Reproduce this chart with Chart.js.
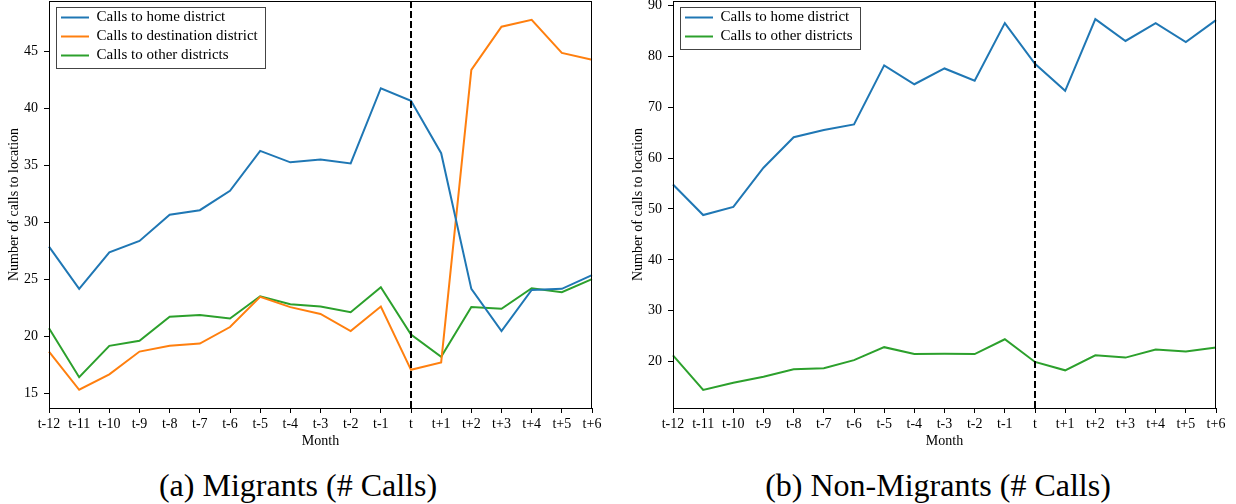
<!DOCTYPE html>
<html>
<head>
<meta charset="utf-8">
<script src="https://cdn.jsdelivr.net/npm/chart.js@4.4.1/dist/chart.umd.min.js"></script>
<style>
  body { margin: 0; background: #fff; width: 1236px; height: 504px; position: relative; overflow: hidden; font-family: "Liberation Serif", serif; }
  .panel { position: absolute; top: 0; width: 612px; height: 450px; }
  #panelA { left: 0; }
  #panelB { left: 624px; }
  .caption { position: absolute; top: 467px; width: 596px; font-size: 32px; line-height: 36px; text-align: center; color: #000; }
</style>
</head>
<body>
<div class="panel" id="panelA"><canvas id="migrantsChart"></canvas></div>
<div class="panel" id="panelB"><canvas id="nonMigrantsChart"></canvas></div>
<div class="caption" style="left:0">(a) Migrants (# Calls)</div>
<div class="caption" style="left:640px">(b) Non-Migrants (# Calls)</div>

<script>
// months relative to the move
const months = ["t-12", "t-11", "t-10", "t-9", "t-8", "t-7", "t-6", "t-5", "t-4", "t-3", "t-2", "t-1",
  "t", "t+1", "t+2", "t+3", "t+4", "t+5", "t+6"];
const eventMonth = "t";

// migrants
const migrantHome = [27.9, 24.2, 27.4, 28.4, 30.7, 31.1, 32.8, 36.3, 35.3, 35.55, 35.2, 41.8,
  40.7, 36.1, 24.2, 20.5, 24.1, 24.2, 25.4];
const migrantDest = [18.7, 15.35, 16.7, 18.7, 19.2, 19.4, 20.85, 23.5, 22.6, 22.0, 20.5, 22.65,
  17.1, 17.75, 43.4, 47.2, 47.8, 44.9, 44.3];
const migrantOther = [20.75, 16.45, 19.2, 19.65, 21.75, 21.9, 21.6, 23.55, 22.85, 22.65, 22.15, 24.35,
  20.2, 18.25, 22.6, 22.45, 24.25, 23.9, 25.05];

// non-migrants
const nonMigrantHome = [54.8, 48.8, 50.4, 58.1, 64.1, 65.5, 66.6, 78.2, 74.5, 77.6, 75.2, 86.5,
  78.5, 73.2, 87.3, 83.0, 86.5, 82.8, 87.1];
const nonMigrantOther = [21.25, 14.45, 15.85, 17.05, 18.5, 18.7, 20.3, 22.85, 21.5, 21.55, 21.5, 24.4,
  19.95, 18.3, 21.25, 20.8, 22.4, 22.0, 22.8];

// y axis ticks and limits
const migrantTicks = [15, 20, 25, 30, 35, 40, 45];
const nonMigrantTicks = [20, 30, 40, 50, 60, 70, 80, 90];
const migrantRange = [13.75, 49.45];
const nonMigrantRange = [10.9, 90.85];

const BLUE = "#1f77b4";
const ORANGE = "#ff7f0e";
const GREEN = "#2ca02c";
const FONT = { family: "'Liberation Serif', serif", size: 14 };
const LEGEND_FONT = { family: "'Liberation Serif', serif", size: 15 };

function series(label, data, color) {
  return {
    label: label,
    data: data,
    borderColor: color,
    backgroundColor: color,
    borderWidth: 2,
    pointRadius: 0,
    tension: 0,
    fill: false,
  };
}

// dashed line at month t, axes frame, box round the legend
const extras = {
  id: "extras",
  afterLayout(chart) {
    const area = chart.chartArea;
    chart.legend.left = area.left + 8;
    chart.legend.top = area.top + 5;
  },
  afterDatasetsDraw(chart) {
    const { ctx, chartArea: a, scales } = chart;
    const x = scales.x.getPixelForValue(months.indexOf(eventMonth));
    ctx.save();
    ctx.strokeStyle = "#000";
    ctx.lineWidth = 2;
    ctx.setLineDash([7, 3]);
    ctx.beginPath();
    ctx.moveTo(x, a.top);
    ctx.lineTo(x, a.bottom);
    ctx.stroke();
    ctx.restore();
  },
  afterDraw(chart) {
    const { ctx, chartArea: a } = chart;
    ctx.save();
    ctx.strokeStyle = "#000";
    ctx.lineWidth = 1;
    ctx.strokeRect(Math.round(a.left) + 0.5, Math.round(a.top) + 0.5,
      Math.round(a.right - a.left) - 1, Math.round(a.bottom - a.top));

    const hb = chart.legend.legendHitBoxes;
    const l = Math.min(...hb.map((b) => b.left)) - 5;
    const t = Math.min(...hb.map((b) => b.top)) - 3;
    const r = Math.max(...hb.map((b) => b.left + b.width)) + 7;
    const btm = Math.max(...hb.map((b) => b.top + b.height)) + 5;
    ctx.strokeStyle = "#444";
    ctx.strokeRect(Math.round(l) + 0.5, Math.round(t) + 0.5, Math.round(r - l), Math.round(btm - t));
    ctx.restore();
  },
};

function makeChart(id, datasets, ticks, range) {
  return new Chart(document.getElementById(id), {
    type: "line",
    data: { labels: months, datasets: datasets },
    options: {
      responsive: true,
      maintainAspectRatio: false,
      animation: false,
      layout: { padding: { top: 1, right: 20, left: 0, bottom: 0 } },
      scales: {
        x: {
          grid: { drawOnChartArea: false, color: "#000", tickLength: 5 },
          border: { color: "#000" },
          ticks: { color: "#000", font: FONT, autoSkip: false, maxRotation: 0, padding: 3 },
          title: { display: true, text: "Month", color: "#000", font: FONT, padding: { top: 0, bottom: 0 } },
          afterFit(s) {
            s.height = 42;
            s.paddingLeft = 0;
            s.paddingRight = 0;
          },
        },
        y: {
          min: range[0],
          max: range[1],
          afterBuildTicks(s) {
            s.ticks = ticks.map((v) => ({ value: v }));
          },
          grid: { drawOnChartArea: false, color: "#000", tickLength: 5 },
          border: { color: "#000" },
          ticks: { color: "#000", font: FONT, padding: 6 },
          title: { display: true, text: "Number of calls to location", color: "#000", font: FONT, padding: { top: 6 } },
          afterFit(s) {
            s.width = 49;
            s.paddingTop = 0;
            s.paddingBottom = 0;
          },
        },
      },
      plugins: {
        legend: {
          position: "chartArea",
          align: "start",
          labels: {
            usePointStyle: true,
            pointStyle: "line",
            pointStyleWidth: 28,
            padding: 4,
            color: "#000",
            font: LEGEND_FONT,
          },
        },
        tooltip: { enabled: false },
      },
    },
    plugins: [extras],
  });
}

makeChart("migrantsChart", [
  series("Calls to home district", migrantHome, BLUE),
  series("Calls to destination district", migrantDest, ORANGE),
  series("Calls to other districts", migrantOther, GREEN),
], migrantTicks, migrantRange);

makeChart("nonMigrantsChart", [
  series("Calls to home district", nonMigrantHome, BLUE),
  series("Calls to other districts", nonMigrantOther, GREEN),
], nonMigrantTicks, nonMigrantRange);
</script>
</body>
</html>
